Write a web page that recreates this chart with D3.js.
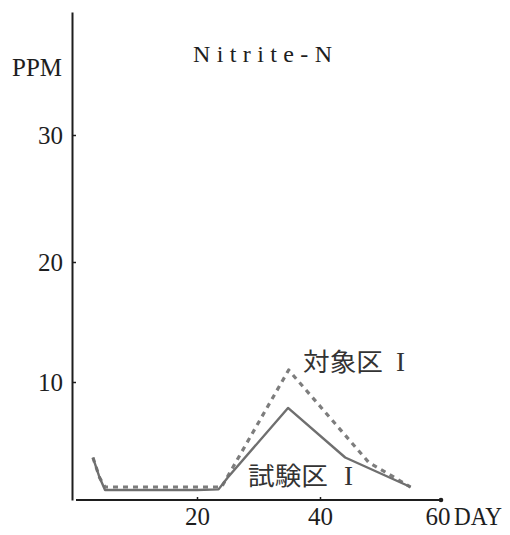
<!DOCTYPE html>
<html>
<head>
<meta charset="utf-8">
<script src="https://cdn.jsdelivr.net/npm/d3@7/dist/d3.min.js"></script>
<style>
  html, body { margin: 0; padding: 0; background: #fff; }
  svg { display: block; }
</style>
</head>
<body>
<svg id="chart" width="510" height="535"></svg>
<script>
// ---- data ----
const title = "Nitrite-N";
const yUnit = "PPM";
const xUnit = "DAY";
const yTickValues = [10, 20, 30];
const xTickValues = [20, 40, 60];

// 試験区 I (solid)
const testDays   = [2.8, 3.9, 4.8, 10, 15, 20, 23.5, 25.0, 34.8, 44.2, 55.1];
const testValues = [3.6, 1.9, 0.85, 0.85, 0.85, 0.85, 0.9, 1.9, 7.8, 3.6, 1.1];
// 対象区 I (dashed)
const ctrlDays   = [2.8, 3.9, 4.8, 10, 15, 20, 24.0, 34.9, 48.1, 55.1];
const ctrlValues = [3.6, 1.9, 1.1, 1.1, 1.1, 1.1, 1.1, 11.0, 3.2, 1.1];

const seriesNames = ["試験区", "対象区"];

// ---- scales (the printed axes are slightly uneven, so piecewise-linear) ----
const svg = d3.select("#chart");
const x = d3.scaleLinear().domain([0, 20, 40, 60]).range([76, 197, 320, 440]);
const y = d3.scaleLinear().domain([0, 10, 20, 30, 39.7]).range([500, 382, 262, 135, 12]);

const ink = "#1e1e1e";
const serif = "'Liberation Serif', 'DejaVu Serif', serif";
const cjk = "'Noto Sans CJK JP', 'Noto Sans CJK SC', sans-serif";

// ---- y axis ----
const yAxis = d3.axisLeft(y).tickValues(yTickValues).tickSizeInner(-4).tickSizeOuter(0).tickPadding(9)
  .tickFormat(d3.format("d"));
const gy = svg.append("g").attr("transform", "translate(72,0)").call(yAxis);
gy.select(".domain").attr("stroke", ink).attr("stroke-width", 2);
gy.selectAll(".tick line").attr("stroke", ink).attr("stroke-width", 1.5);
gy.selectAll(".tick text").attr("font-family", serif).attr("font-size", 25).attr("fill", ink);

// ---- x axis ----
const xAxis = d3.axisBottom(x).tickValues(xTickValues.slice(0, 2)).tickSizeInner(-3).tickSizeOuter(0)
  .tickFormat(d3.format("d"));
const gx = svg.append("g").attr("transform", "translate(0,500)").call(xAxis);
gx.select(".domain").attr("stroke", ink).attr("stroke-width", 2)
  .attr("d", `M${x(0)},0H${x(60) + 2}`);
gx.selectAll(".tick line").attr("stroke", ink).attr("stroke-width", 1.5);
gx.selectAll(".tick text").attr("font-family", serif).attr("font-size", 25).attr("fill", ink)
  .attr("y", 25).attr("dy", 0);
// end mark and "60 DAY"
svg.append("circle").attr("cx", x(60) + 1).attr("cy", 500).attr("r", 2.3).attr("fill", ink);
svg.append("text").attr("x", x(60) - 2).attr("y", 525).attr("text-anchor", "middle")
  .attr("font-family", serif).attr("font-size", 25).attr("fill", ink).text(xTickValues[2]);
svg.append("text").attr("x", 454).attr("y", 525)
  .attr("font-family", serif).attr("font-size", 25).attr("fill", ink)
  .attr("textLength", 48).attr("lengthAdjust", "spacingAndGlyphs").text(xUnit);

// y unit
svg.append("text").attr("x", 62).attr("y", 76).attr("text-anchor", "end")
  .attr("font-family", serif).attr("font-size", 25).attr("fill", ink)
  .attr("textLength", 50).attr("lengthAdjust", "spacingAndGlyphs").text(yUnit);

// title
svg.append("text").attr("x", 193).attr("y", 62)
  .attr("font-family", serif).attr("font-size", 24).attr("fill", ink)
  .attr("textLength", 139).attr("lengthAdjust", "spacing").text(title);

// ---- lines ----
const line = d3.line().x(d => x(d[0])).y(d => y(d[1]));
const testData = testDays.map((d, i) => [d, testValues[i]]);
const ctrlData = ctrlDays.map((d, i) => [d, ctrlValues[i]]);

svg.append("path").datum(ctrlData).attr("d", line)
  .attr("fill", "none").attr("stroke", "#7d7d7d").attr("stroke-width", 3.2)
  .attr("stroke-dasharray", "5,5").attr("stroke-linejoin", "round");
svg.append("path").datum(testData).attr("d", line)
  .attr("fill", "none").attr("stroke", "#6f6f6f").attr("stroke-width", 2.4)
  .attr("stroke-linejoin", "round");

// ---- series labels ----
function seriesLabel(name, xPos, yBase, iX) {
  svg.append("text").attr("x", xPos).attr("y", yBase)
    .attr("font-family", cjk).attr("font-size", 25).attr("font-weight", 400).attr("fill", "#333")
    .attr("textLength", 80).attr("lengthAdjust", "spacingAndGlyphs").text(name);
  svg.append("text").attr("x", iX).attr("y", yBase)
    .attr("font-family", serif).attr("font-size", 27).attr("fill", "#333").text("I");
}
seriesLabel(seriesNames[1], 303, 371, 396);
seriesLabel(seriesNames[0], 248, 485, 344);
</script>
</body>
</html>
